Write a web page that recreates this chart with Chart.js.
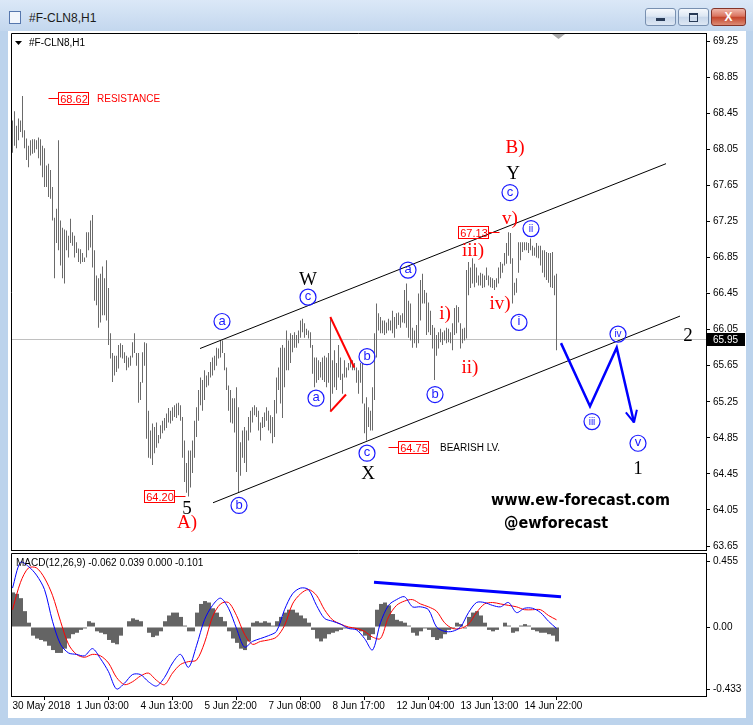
<!DOCTYPE html>
<html>
<head>
<meta charset="utf-8">
<title>#F-CLN8,H1</title>
<script src="https://cdn.jsdelivr.net/npm/chart.js@4.4.1/dist/chart.umd.min.js"></script>
<style>
  html, body { margin:0; padding:0; }
  body { width:753px; height:725px; position:relative; overflow:hidden; background:#bcd3ec; }
  #bar { position:absolute; left:0; top:0; width:753px; height:31px; background:linear-gradient(#dbe8f7, #c3d7ee); }
  #ico { position:absolute; left:9px; top:11px; width:10px; height:11px; border:1px solid #5677ad; background:#f2f6fc; }
  #ttl { position:absolute; left:29px; top:11px; font:12px 'Liberation Sans', sans-serif; color:#1b1b1b; }
  .btn { position:absolute; top:8px; width:31px; height:18px; box-sizing:border-box; border:1px solid #7890b0; border-radius:3px;
         background:linear-gradient(#f5f8fc, #dde7f3 45%, #c8d7ea 52%, #dde7f4); }
  #bmin { left:645px; } #bmax { left:678px; }
  #bcls { left:711px; width:35px; border-color:#84352a; background:linear-gradient(#f0b6a9, #da7560 45%, #c5462c 52%, #dc8c75); }
  #bmin i { position:absolute; left:10px; top:9px; width:9px; height:3px; background:#283a56; }
  #bmax i { position:absolute; left:10px; top:4px; width:7px; height:6px; border:1px solid #283a56; border-top-width:2px; }
  #bcls i { position:absolute; left:0; top:0; width:33px; text-align:center; font:bold 12px 'Liberation Sans', sans-serif; line-height:16px; color:#fff; font-style:normal; }
  #panel { position:absolute; left:8px; top:31px; width:738px; height:687px; background:#fff; }
  canvas { position:absolute; }
  #main { left:11px; top:33px; }
  #macd { left:11px; top:553px; }
</style>
</head>
<body>
<div id="bar"></div>
<div id="ico"></div>
<div id="ttl">#F-CLN8,H1</div>
<div class="btn" id="bmin"><i></i></div>
<div class="btn" id="bmax"><i></i></div>
<div class="btn" id="bcls"><i>X</i></div>
<div id="panel"></div>
<canvas id="main" width="742" height="518"></canvas>
<canvas id="macd" width="742" height="165"></canvas>
<script>
/* H1 bars, one per hour, index 0 = 30 May 2018 */
const barHigh = [
  68.37,68.47,68.31,68.39,68.37,68.64,68.26,68.17,68.09,68.15,
  68.16,68.16,68.15,68.18,68.16,68.09,68.06,67.87,67.89,67.82,
  67.63,67.29,67.39,68.15,67.26,67.18,67.16,67.15,67.09,67.28,
  67.13,67.09,67.02,66.95,66.94,66.90,66.85,67.13,67.13,67.26,
  67.32,66.93,66.65,66.62,66.67,66.75,66.62,66.82,66.51,66.01,
  65.79,65.76,65.76,65.88,65.90,65.88,65.80,65.76,65.74,65.76,
  65.91,66.01,65.79,65.79,65.47,65.80,65.91,65.90,65.15,64.93,
  65.01,64.97,65.02,64.88,64.99,65.04,65.07,65.12,65.18,65.15,
  65.19,65.21,65.23,65.24,65.21,65.08,64.82,64.57,64.71,64.71,
  64.82,65.04,65.19,65.38,65.52,65.49,65.60,65.54,65.58,65.69,
  65.74,65.76,65.85,65.84,65.93,65.93,65.79,65.63,65.43,65.38,
  65.29,65.29,65.41,65.19,64.80,64.93,64.97,64.93,65.08,65.15,
  65.19,65.21,65.19,65.15,65.02,65.08,65.13,65.19,65.15,65.10,
  65.08,65.27,65.52,65.63,65.85,65.88,65.85,66.04,65.93,66.01,
  65.99,66.02,65.99,66.04,66.15,66.17,66.12,66.06,66.04,66.02,
  65.88,65.74,65.74,65.71,65.69,65.74,65.76,65.74,65.79,66.19,
  65.71,65.82,65.68,65.88,65.74,65.56,65.71,65.63,65.68,65.71,
  65.71,65.68,65.63,65.60,65.68,65.68,65.23,65.30,65.19,65.15,
  65.41,66.01,66.34,66.23,66.19,66.15,66.15,66.13,66.17,66.15,
  66.26,66.19,66.23,66.24,66.21,66.23,66.49,66.56,66.37,66.34,
  66.07,66.04,66.10,66.45,66.60,66.67,66.49,66.46,66.35,66.26,
  66.10,66.07,65.99,66.02,66.06,66.02,66.04,66.07,66.06,66.02,
  66.12,66.29,66.32,66.30,66.12,66.06,66.07,66.71,66.80,66.74,
  66.84,66.78,66.74,66.65,66.68,66.67,66.65,66.74,66.65,66.63,
  66.62,66.60,66.62,66.74,66.80,66.78,66.90,67.01,67.13,67.12,
  66.84,66.57,66.62,67.02,67.02,67.02,67.02,67.02,67.01,67.06,
  66.98,66.96,67.01,66.98,66.98,66.93,66.93,66.91,66.90,66.90,
  66.91,66.65,66.67
];
const barLow = [
  68.01,68.09,68.06,68.15,68.24,68.18,68.06,67.93,67.85,67.98,
  68.00,68.01,68.05,67.95,67.87,67.74,67.63,67.63,67.52,67.50,
  67.26,66.62,67.01,66.93,66.76,66.62,66.56,66.93,66.85,67.01,
  66.98,66.85,66.90,66.80,66.78,66.80,66.80,66.85,66.93,66.96,
  66.74,66.37,66.32,66.07,66.13,66.21,66.21,66.15,65.88,65.73,
  65.47,65.54,65.58,65.62,65.74,65.73,65.68,65.60,65.63,65.65,
  65.74,65.79,65.65,65.24,65.27,65.46,65.65,64.84,64.63,64.62,
  64.55,64.68,64.74,64.79,64.84,64.90,64.93,64.96,65.02,65.01,
  65.04,65.08,65.07,65.10,65.04,64.63,64.36,64.24,64.20,64.30,
  64.46,64.63,64.86,65.04,65.21,65.15,65.27,65.41,65.43,65.52,
  65.54,65.60,65.65,65.73,65.74,65.79,65.60,65.38,65.15,65.02,
  65.01,64.91,64.47,64.24,64.43,64.63,64.57,64.47,64.82,64.91,
  65.02,65.10,65.08,64.93,64.82,64.96,64.97,65.04,64.93,64.90,
  64.79,64.86,65.12,65.38,65.23,65.07,65.41,65.60,65.60,65.68,
  65.80,65.85,65.85,65.90,65.96,66.02,65.96,65.99,65.95,65.85,
  65.56,65.41,65.46,65.49,65.52,65.49,65.47,65.41,65.46,65.15,
  65.34,65.41,65.38,65.52,65.49,65.34,65.52,65.52,65.60,65.63,
  65.60,65.60,65.46,65.34,65.46,65.23,64.90,64.82,64.97,64.93,
  64.93,65.27,65.74,66.04,66.01,66.01,65.99,66.01,66.04,66.04,
  66.01,65.96,66.06,66.10,66.07,66.13,66.12,66.07,65.96,65.93,
  65.85,65.90,65.85,65.90,66.15,66.34,66.34,65.99,66.02,65.99,
  65.84,65.49,65.76,65.84,65.91,65.88,65.93,65.90,65.91,65.90,
  65.82,65.99,66.01,66.13,65.84,65.90,65.93,65.95,66.43,66.51,
  66.56,66.52,66.57,66.54,66.54,66.51,66.52,66.60,66.54,66.52,
  66.51,66.49,66.52,66.56,66.62,66.68,66.76,66.78,66.87,66.78,
  66.34,66.43,66.46,66.68,66.82,66.91,66.93,66.93,66.90,66.93,
  66.87,66.87,66.85,66.84,66.76,66.68,66.63,66.60,66.57,66.52,
  66.51,66.43,65.82
];
const lastClose = 65.95;

const priceTicks = [69.25,68.85,68.45,68.05,67.65,67.25,66.85,66.45,66.05,65.65,65.25,64.85,64.45,64.05,63.65];
const dateTickIdx = [0,32,64,96,128,160,192,224,256];
const dateLabels = ['30 May 2018','1 Jun 03:00','4 Jun 13:00','5 Jun 22:00','7 Jun 08:00','8 Jun 17:00','12 Jun 04:00','13 Jun 13:00','14 Jun 22:00'];

/* MACD(12,26,9): lines sampled every 4 bars, histogram every 2 bars */
const macdMain = [
  0.27,0.45,0.42,0.36,0.26,0.04,-0.12,-0.18,-0.19,-0.20,
  -0.15,-0.22,-0.31,-0.43,-0.39,-0.33,-0.33,-0.38,-0.41,-0.35,
  -0.25,-0.19,-0.28,-0.13,0.05,0.15,0.20,0.13,-0.01,-0.14,
  -0.10,-0.08,-0.06,-0.03,0.12,0.23,0.27,0.26,0.15,0.06,
  0.04,0.02,-0.01,-0.02,-0.08,-0.16,0.03,0.15,0.19,0.21,
  0.14,0.14,0.12,0.00,-0.03,-0.03,0.00,0.10,0.17,0.17,
  0.15,0.14,0.17,0.10,0.13,0.13,0.10,0.04,-0.01
];
const macdSignal = [
  0.12,0.31,0.41,0.41,0.34,0.22,0.04,-0.12,-0.19,-0.21,
  -0.19,-0.20,-0.25,-0.35,-0.40,-0.38,-0.34,-0.32,-0.37,-0.40,
  -0.32,-0.26,-0.24,-0.23,-0.11,0.07,0.16,0.17,0.08,-0.05,
  -0.12,-0.10,-0.09,-0.07,0.01,0.16,0.23,0.26,0.22,0.12,
  0.05,0.02,0.00,-0.01,-0.03,-0.07,-0.08,0.07,0.15,0.18,
  0.19,0.16,0.14,0.11,0.03,-0.01,-0.01,0.02,0.10,0.16,
  0.17,0.16,0.15,0.14,0.12,0.12,0.12,0.08,0.05
];
const macdHist = [
  0.24,0.23,0.20,0.11,0.03,-0.06,-0.08,-0.09,-0.10,-0.13,
  -0.16,-0.18,-0.18,-0.15,-0.08,-0.05,-0.04,-0.02,-0.01,0.04,
  0.03,-0.03,-0.04,-0.05,-0.09,-0.11,-0.12,-0.06,0.00,0.04,
  0.06,0.05,0.04,0.00,-0.04,-0.07,-0.06,-0.03,0.04,0.08,
  0.10,0.10,0.07,0.01,-0.03,-0.03,0.10,0.16,0.18,0.17,
  0.13,0.10,0.07,0.04,-0.03,-0.08,-0.11,-0.15,-0.16,-0.10,
  0.03,0.04,0.03,0.04,0.03,0.01,0.04,0.07,0.10,0.12,
  0.12,0.10,0.08,0.06,0.03,-0.02,-0.08,-0.10,-0.08,-0.05,
  -0.04,-0.03,-0.02,-0.01,-0.01,-0.01,-0.02,-0.03,-0.06,-0.09,
  -0.05,0.12,0.16,0.17,0.15,0.09,0.05,0.04,0.03,0.01,
  -0.04,-0.06,-0.03,-0.01,-0.02,-0.07,-0.09,-0.08,-0.05,-0.02,
  -0.01,0.03,0.02,-0.01,0.07,0.10,0.11,0.08,0.03,-0.02,
  -0.03,-0.02,0.00,0.03,0.01,-0.04,-0.03,0.01,0.02,0.01,
  -0.02,-0.03,-0.04,-0.04,-0.05,-0.06,-0.10
];
const macdTicks = [0.455, 0, -0.433];
const macdTickLabels = ['0.455', '0.00', '-0.433'];
const macdCaption = 'MACD(12,26,9) -0.062 0.039 0.000 -0.101';

/* drawings on the chart, in (bar index, price) */
const chanUpper = [[93.75, 65.84], [326.75, 67.89]];
const chanLower = [[100.25, 64.13], [333.75, 66.20]];
const redLines = [[[158.9, 66.19], [170.9, 65.63]], [[158.9, 65.14], [166.75, 65.33]]];
const projection = [[274.25, 65.90], [288.75, 65.20], [302.1, 65.85], [310.75, 65.02]];
const macdTrend = [[180.75, 0.31], [274.25, 0.21]];

const circled = [
  {t:'a', i:104.75, p:66.14}, {t:'b', i:113.25, p:64.10}, {t:'c', i:147.75, p:66.41},
  {t:'a', i:151.75, p:65.29}, {t:'b', i:177.25, p:65.75}, {t:'c', i:177.25, p:64.68},
  {t:'a', i:197.75, p:66.71}, {t:'b', i:211.25, p:65.33}, {t:'c', i:248.75, p:67.57},
  {t:'i', i:253.25, p:66.13}, {t:'ii', i:259.25, p:67.17}, {t:'iii', i:289.75, p:65.03},
  {t:'iv', i:302.75, p:66.00}, {t:'v', i:312.75, p:64.79}
];
const waveLabels = [
  {t:'W', i:147.75, p:66.61, c:'#000'}, {t:'X', i:177.75, p:64.46, c:'#000'},
  {t:'Y', i:250.25, p:67.79, c:'#000'}, {t:'5', i:87.25, p:64.07, c:'#000'},
  {t:'2', i:337.75, p:65.99, c:'#000'}, {t:'1', i:312.75, p:64.52, c:'#000'},
  {t:'B)', i:251.25, p:68.07, c:'#f00'}, {t:'A)', i:87.25, p:63.92, c:'#f00'},
  {t:'v)', i:248.75, p:67.29, c:'#f00'}, {t:'iii)', i:230.25, p:66.93, c:'#f00'},
  {t:'iv)', i:243.75, p:66.35, c:'#f00'}, {t:'i)', i:216.25, p:66.23, c:'#f00'},
  {t:'ii)', i:228.75, p:65.64, c:'#f00'}
];
const priceBoxes = [
  {i:30.25, p:68.62, side:'left'}, {i:73.25, p:64.20, side:'right'},
  {i:200.5, p:64.75, side:'left'}, {i:230.25, p:67.13, side:'right'}
];
const notes = [
  {t:'RESISTANCE', i:42.25, p:68.62, c:'#f00'},
  {t:'BEARISH LV.', i:213.75, p:64.75, c:'#000'}
];
const watermark = [
  {t:'www.ew-forecast.com', i:239.25, p:64.15},
  {t:'@ewforecast', i:245.75, p:63.90}
];

const SANS = "'Liberation Sans', Arial, sans-serif";
const SERIF = "'Liberation Serif', 'Times New Roman', serif";
const axisFont = { family: SANS, size: 10 };

function strokePath(ctx, pts, toPx) {
  ctx.beginPath();
  pts.forEach((q, k) => { const [x, y] = toPx(q); k ? ctx.lineTo(x, y) : ctx.moveTo(x, y); });
  ctx.stroke();
}

const mainDeco = {
  id: 'mainDeco',
  beforeDatasetsDraw(chart) {
    const { ctx, chartArea: a, scales: { y } } = chart;
    const by = Math.round(y.getPixelForValue(lastClose)) + 0.5;
    ctx.save();
    ctx.strokeStyle = '#c0c0c0'; ctx.lineWidth = 1;
    ctx.beginPath(); ctx.moveTo(a.left, by); ctx.lineTo(a.right, by); ctx.stroke();
    ctx.restore();
  },
  afterDatasetsDraw(chart) {
    const { ctx, chartArea: a, scales: { x, y } } = chart;
    const toPx = q => [x.getPixelForValue(q[0]), y.getPixelForValue(q[1])];
    ctx.save();
    ctx.beginPath(); ctx.rect(a.left, a.top, a.width, a.height); ctx.clip();

    // channel
    ctx.strokeStyle = '#000'; ctx.lineWidth = 1;
    strokePath(ctx, chanUpper, toPx);
    strokePath(ctx, chanLower, toPx);

    // red lines
    ctx.strokeStyle = '#f00'; ctx.lineWidth = 2;
    redLines.forEach(l => strokePath(ctx, l, toPx));

    // projected path + arrow head
    ctx.strokeStyle = '#0000ff'; ctx.lineWidth = 2.5; ctx.lineJoin = 'miter';
    strokePath(ctx, projection, toPx);
    const [tx, ty] = toPx(projection[projection.length - 1]);
    const [sx, sy] = toPx(projection[projection.length - 2]);
    const ang = Math.atan2(ty - sy, tx - sx);
    ctx.lineWidth = 2;
    [-0.45, 0.45].forEach(d => {
      ctx.beginPath(); ctx.moveTo(tx, ty);
      ctx.lineTo(tx - 13 * Math.cos(ang + d), ty - 13 * Math.sin(ang + d)); ctx.stroke();
    });

    // price boxes
    ctx.lineWidth = 1; ctx.textAlign = 'center'; ctx.textBaseline = 'middle';
    priceBoxes.forEach(b => {
      const [cx, cy] = toPx([b.i, b.p]);
      const w = 30, h = 12;
      const l = Math.round(cx - w / 2) + 0.5, t = Math.round(cy - h / 2) + 0.5;
      ctx.strokeStyle = '#f00';
      ctx.strokeRect(l, t, w, h);
      const ly = Math.round(cy) + 0.5;
      ctx.beginPath();
      if (b.side === 'left') { ctx.moveTo(l, ly); ctx.lineTo(l - 10, ly); }
      else { ctx.moveTo(l + w, ly); ctx.lineTo(l + w + 11, ly); }
      ctx.stroke();
      ctx.fillStyle = '#f00'; ctx.font = '11px ' + SANS;
      ctx.fillText(b.p.toFixed(2), l + w / 2 + 0.5, t + h / 2 + 1);
    });

    // notes
    ctx.textAlign = 'left';
    notes.forEach(n => {
      const [nx, ny] = toPx([n.i, n.p]);
      ctx.fillStyle = n.c; ctx.font = '10px ' + SANS;
      ctx.fillText(n.t, nx, ny + 1);
    });

    // circled wave labels
    ctx.textAlign = 'center';
    circled.forEach(c => {
      const [cx, cy] = toPx([c.i, c.p]);
      ctx.strokeStyle = '#1a1aff'; ctx.lineWidth = 1.2;
      ctx.beginPath(); ctx.arc(cx, cy, 8, 0, Math.PI * 2); ctx.stroke();
      ctx.fillStyle = '#1a1aff';
      ctx.font = (c.t.length > 1 ? '10px ' : '13px ') + SANS;
      ctx.fillText(c.t, cx, cy + (c.t.length > 1 ? 0.5 : -0.5));
    });

    // wave degree labels
    waveLabels.forEach(w => {
      const [wx, wy] = toPx([w.i, w.p]);
      ctx.fillStyle = w.c; ctx.font = '19px ' + SERIF;
      ctx.fillText(w.t, wx, wy + 1);
    });

    // watermark
    ctx.textAlign = 'left'; ctx.fillStyle = '#000';
    ctx.font = "bold 16px 'DejaVu Sans Condensed', 'Liberation Sans', sans-serif";
    watermark.forEach(m => {
      const [mx, my] = toPx([m.i, m.p]);
      ctx.fillText(m.t, mx, my);
    });
    ctx.restore();
  },
  afterDraw(chart) {
    const { ctx, chartArea: a, scales: { y } } = chart;
    ctx.save();
    ctx.strokeStyle = '#000'; ctx.lineWidth = 1;
    ctx.beginPath();
    ctx.moveTo(a.left + 0.5, a.bottom); ctx.lineTo(a.left + 0.5, a.top + 0.5);
    ctx.lineTo(a.right, a.top + 0.5);
    ctx.moveTo(a.left, a.bottom - 0.5); ctx.lineTo(a.right, a.bottom - 0.5);
    ctx.stroke();
    // shift marker
    ctx.fillStyle = '#a8a8a8';
    ctx.beginPath(); ctx.moveTo(541, 1); ctx.lineTo(554, 1); ctx.lineTo(547.5, 6); ctx.closePath(); ctx.fill();
    // symbol caption
    ctx.fillStyle = '#000';
    ctx.beginPath(); ctx.moveTo(4, 8); ctx.lineTo(11, 8); ctx.lineTo(7.5, 12); ctx.closePath(); ctx.fill();
    ctx.font = '10px ' + SANS; ctx.textAlign = 'left'; ctx.textBaseline = 'middle';
    ctx.fillText('#F-CLN8,H1', 18, 10);
    // last price tag
    const py = Math.round(y.getPixelForValue(lastClose));
    ctx.fillStyle = '#000'; ctx.fillRect(a.right + 1, py - 6, 38, 13);
    ctx.fillStyle = '#fff'; ctx.fillText(lastClose.toFixed(2), a.right + 7, py + 1);
    ctx.restore();
  }
};

new Chart(document.getElementById('main'), {
  type: 'bar',
  data: {
    datasets: [{
      data: barHigh.map((h, i) => ({ x: i, y: [barLow[i], h] })),
      backgroundColor: '#6a6a6a', borderWidth: 0, barThickness: 1, inflateAmount: 0
    }]
  },
  options: {
    responsive: false, animation: false, events: [],
    layout: { padding: 0 },
    plugins: { legend: { display: false }, tooltip: { enabled: false } },
    scales: {
      x: { type: 'linear', display: false, offset: false, min: -0.75, max: 346.75 },
      y: {
        position: 'right', min: 63.595, max: 69.339,
        afterBuildTicks: s => { s.ticks = priceTicks.map(v => ({ value: v })); },
        afterFit: s => { s.width = 47; s.paddingTop = 0; s.paddingBottom = 0; },
        grid: { drawOnChartArea: false, tickLength: 4, color: '#000' },
        border: { color: '#000' },
        ticks: { color: '#000', font: axisFont, padding: 3, autoSkip: false, callback: v => v.toFixed(2) }
      }
    }
  },
  plugins: [mainDeco]
});

const macdDeco = {
  id: 'macdDeco',
  afterDatasetsDraw(chart) {
    const { ctx, chartArea: a, scales: { x, y } } = chart;
    const toPx = q => [x.getPixelForValue(q[0]), y.getPixelForValue(q[1])];
    ctx.save();
    ctx.beginPath(); ctx.rect(a.left, a.top, a.width, a.height); ctx.clip();
    ctx.strokeStyle = '#0000ff'; ctx.lineWidth = 3;
    strokePath(ctx, macdTrend, toPx);
    ctx.restore();
  },
  afterDraw(chart) {
    const { ctx, chartArea: a } = chart;
    ctx.save();
    ctx.strokeStyle = '#000'; ctx.lineWidth = 1;
    ctx.beginPath();
    ctx.moveTo(a.left + 0.5, a.bottom); ctx.lineTo(a.left + 0.5, a.top + 0.5); ctx.lineTo(a.right, a.top + 0.5);
    ctx.stroke();
    ctx.fillStyle = '#000'; ctx.font = '10px ' + SANS; ctx.textAlign = 'left'; ctx.textBaseline = 'middle';
    ctx.fillText(macdCaption, 5, 10);
    ctx.restore();
  }
};

new Chart(document.getElementById('macd'), {
  type: 'bar',
  data: {
    datasets: [
      { type: 'line', order: 1, data: macdMain.map((v, k) => ({ x: k * 4, y: v })),
        borderColor: '#0000ff', borderWidth: 1, pointRadius: 0, tension: 0.3 },
      { type: 'line', order: 2, data: macdSignal.map((v, k) => ({ x: k * 4, y: v })),
        borderColor: '#ff0000', borderWidth: 1, pointRadius: 0, tension: 0.3 },
      { order: 3, data: macdHist.map((v, k) => ({ x: k * 2 + 0.25, y: v })),
        backgroundColor: '#646464', borderWidth: 0, barThickness: 4, inflateAmount: 0 }
    ]
  },
  options: {
    responsive: false, animation: false, events: [],
    layout: { padding: 0 },
    plugins: { legend: { display: false }, tooltip: { enabled: false } },
    scales: {
      x: {
        type: 'linear', offset: false, min: -0.75, max: 346.75,
        afterBuildTicks: s => { s.ticks = dateTickIdx.map(v => ({ value: v })); },
        afterFit: s => { s.height = 22; s.paddingLeft = 0; s.paddingRight = 0; },
        grid: { drawOnChartArea: false, tickLength: 4, color: '#000' },
        border: { color: '#000' },
        ticks: { color: '#000', font: axisFont, padding: 0, align: 'start', maxRotation: 0, autoSkip: false,
                 callback: (v, k) => dateLabels[k] }
      },
      y: {
        position: 'right', min: -0.4788, max: 0.5135,
        afterBuildTicks: s => { s.ticks = macdTicks.map(v => ({ value: v })); },
        afterFit: s => { s.width = 47; s.paddingTop = 0; s.paddingBottom = 0; },
        grid: { drawOnChartArea: false, tickLength: 4, color: '#000' },
        border: { color: '#000' },
        ticks: { color: '#000', font: axisFont, padding: 3, autoSkip: false, callback: (v, k) => macdTickLabels[k] }
      }
    }
  },
  plugins: [macdDeco]
});
</script>
</body>
</html>
